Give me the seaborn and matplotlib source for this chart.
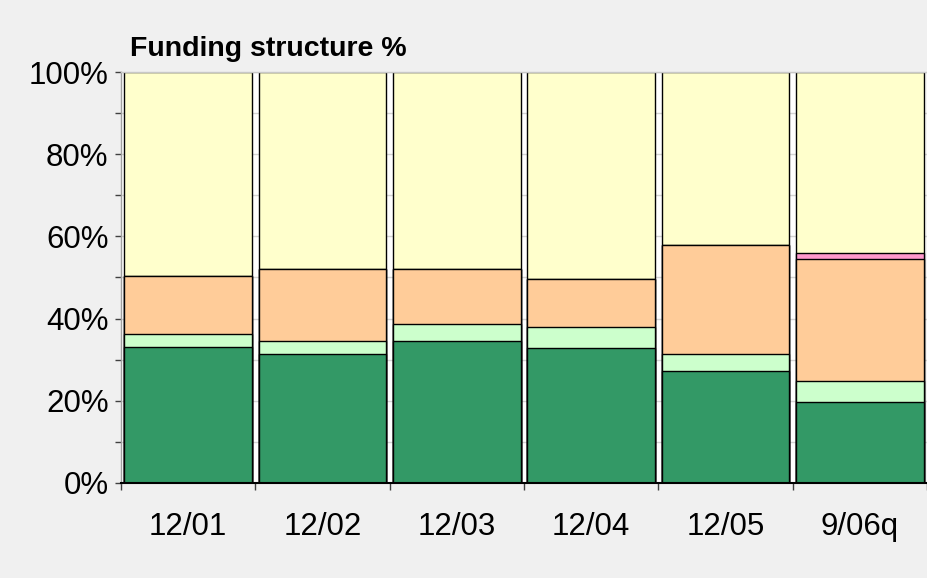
import matplotlib
matplotlib.use("Agg")
import matplotlib.pyplot as plt
import seaborn as sns
import numpy as np
import pandas as pd

# Funding structure by period, each segment in percent of the total
periods = ["12/01", "12/02", "12/03", "12/04", "12/05", "9/06q"]
dark_green = [33.0, 31.4, 34.6, 32.9, 27.2, 19.8]
light_green = [3.3, 3.2, 4.2, 5.1, 4.3, 5.0]
orange = [14.1, 17.4, 13.2, 11.6, 26.4, 29.6]
pink = [0.0, 0.0, 0.0, 0.0, 0.0, 1.6]
yellow = [49.6, 48.0, 48.0, 50.4, 42.1, 44.0]

layers = [
    ("dark_green", dark_green, "#339966"),
    ("light_green", light_green, "#CCFFCC"),
    ("orange", orange, "#FFCC99"),
    ("pink", pink, "#FF99CC"),
    ("yellow", yellow, "#FFFFCC"),
]

sns.set_theme(style="white")
plt.rcParams["font.family"] = ["Liberation Sans", "DejaVu Sans"]
tick_size = 22.5
title_size = 20.5

fig = plt.figure(figsize=(9.28, 5.78), dpi=100, facecolor="#F0F0F0")
ax = fig.add_axes([0.1304, 0.1644, 0.8686, 0.711])
ax.set_facecolor("white")

# stacked bars: draw cumulative totals from the top layer down
cum = np.cumsum([vals for _, vals, _ in layers], axis=0)
for (name, _, col), tops in reversed(list(zip(layers, cum))):
    df = pd.DataFrame({"period": periods, "value": tops})
    sns.barplot(data=df, x="period", y="value", color=col, saturation=1,
                width=0.95, edgecolor="black", linewidth=1.0, ax=ax, zorder=2)

ax.set_xlim(-0.5, 5.5)
ax.set_ylim(0, 100)
ax.set_xlabel("")
ax.set_ylabel("")

# y axis: labelled every 20%, minor ticks and grid every 10%
ax.set_yticks([0, 20, 40, 60, 80, 100])
ax.set_yticklabels([f"{v}%" for v in [0, 20, 40, 60, 80, 100]])
ax.set_yticks([10, 30, 50, 70, 90], minor=True)
ax.yaxis.grid(True, which="both", color="#D4D4D4", linewidth=1.0, zorder=0)
ax.set_axisbelow(True)
ax.tick_params(axis="y", which="both", left=True, length=4, width=1,
               color="#404040", direction="out", pad=5, labelsize=tick_size,
               labelcolor="black")

# x axis: labels centred on bars, tick marks between bars
ax.set_xticks(range(len(periods)))
ax.set_xticklabels(periods)
ax.set_xticks(np.arange(-0.5, len(periods), 1.0), minor=True)
ax.tick_params(axis="x", which="major", length=0, pad=21, labelsize=tick_size,
               labelcolor="black")
ax.tick_params(axis="x", which="minor", bottom=True, length=5, width=1,
               color="#404040", direction="out")

for side in ["top", "right"]:
    ax.spines[side].set_color("#C8C8C8")
    ax.spines[side].set_linewidth(1.0)
ax.spines["left"].set_color("#A0A0A0")
ax.spines["left"].set_linewidth(1.0)
ax.spines["bottom"].set_color("black")
ax.spines["bottom"].set_linewidth(1.5)

fig.text(130 / 928, 1 - 56 / 578, "Funding structure %", fontsize=title_size,
         fontweight="bold", color="black", ha="left", va="baseline")

fig.savefig("out.png", dpi=100, facecolor=fig.get_facecolor())
